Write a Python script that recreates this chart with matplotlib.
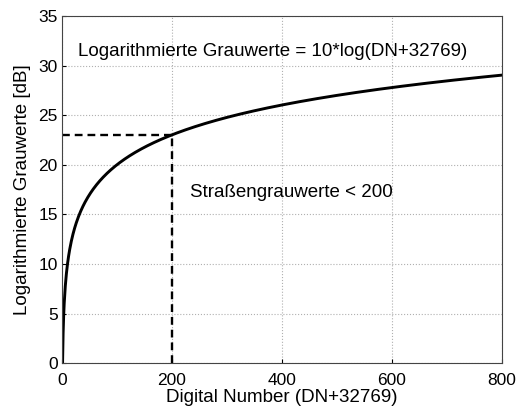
import numpy as np
import matplotlib.pyplot as plt

plt.rcParams['font.family'] = ['Liberation Sans', 'DejaVu Sans']

# Digital number axis (DN+32769) and the log-scaled grey values in dB
dn = np.arange(1, 801)
grau_db = 10 * np.log10(dn)

# Threshold for street grey values
dn_strasse = 200
db_strasse = 10 * np.log10(dn_strasse)

xticks = [0, 200, 400, 600, 800]
yticks = [0, 5, 10, 15, 20, 25, 30, 35]

fig = plt.figure(figsize=(5.18, 4.08), dpi=100)
ax = fig.add_axes([0.1197, 0.110, 0.8493, 0.851])

ax.plot(dn, grau_db, 'k-', linewidth=2.1)
ax.plot([0, dn_strasse], [db_strasse, db_strasse], 'k--', linewidth=1.7, dashes=(3.3, 2.1))
ax.plot([dn_strasse, dn_strasse], [0, db_strasse], 'k--', linewidth=1.7, dashes=(3.3, 2.1))

ax.set_xlim(0, 800)
ax.set_ylim(0, 35)
ax.set_xticks(xticks)
ax.set_yticks(yticks)
ax.tick_params(direction='in', length=3, labelsize=12.5)
ax.tick_params(axis='x', pad=7)
ax.tick_params(axis='y', pad=3)
ax.grid(True, linestyle=':', color='#b0b0b0', linewidth=0.8)
for s in ax.spines.values():
    s.set_linewidth(0.8)
    s.set_color('#444444')

ax.text(29, 31.4, 'Logarithmierte Grauwerte = 10*log(DN+32769)', fontsize=13.5, va='center')
ax.text(233, 17.2, 'Straßengrauwerte < 200', fontsize=13.5, va='center')

ax.set_xlabel('Digital Number (DN+32769)', fontsize=13.5, labelpad=1)
ax.set_ylabel('Logarithmierte Grauwerte [dB]', fontsize=13.5, labelpad=5)

fig.savefig('out.png', dpi=100)
